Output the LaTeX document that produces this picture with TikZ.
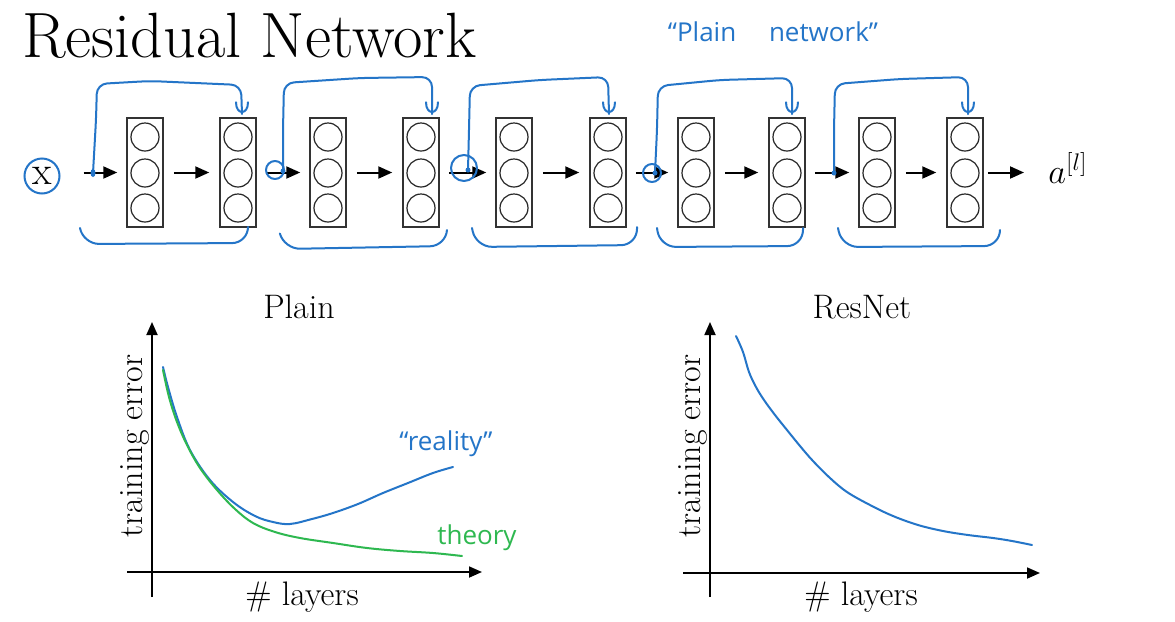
\documentclass[tikz,border=0pt]{standalone}
\usepackage{fontspec}
\usetikzlibrary{arrows.meta}
\newfontfamily\hand{Open Sans}
\definecolor{pen}{RGB}{36,117,200}
\definecolor{greenpen}{RGB}{46,184,80}
\begin{document}
\begin{tikzpicture}[x=0.5pt,y=-0.5pt,
  layer/.style={draw=black!80, line width=0.75pt, minimum width=18pt, minimum height=54.5pt, inner sep=0pt},
  unit/.style={circle, draw=black!85, line width=0.6pt, minimum size=14pt, inner sep=0pt},
  arr/.style={-{Triangle[length=7pt,width=6pt]}, line width=1pt},
  axis/.style={-{Triangle[length=6.5pt,width=5.5pt]}, line width=0.9pt},
  skip/.style={pen, line width=1pt, line cap=round, line join=round},
  lab/.style={inner sep=0pt, font=\fontsize{17}{20}\selectfont},
  handtxt/.style={inner sep=0pt, font=\hand\fontsize{13}{15}\selectfont}]
\useasboundingbox (0,0) rectangle (1175,622);
\fill[white] (0,0) rectangle (1175,622);
% title
\node[anchor=base west, inner sep=0pt, font=\fontsize{32}{38}\selectfont] (title) at (22,57) {Residual Network};
\node[handtxt, pen, font=\hand\fontsize{13}{15}\selectfont] (plainnet) at (773,32) {“Plain\quad\ network”};
% layers
\foreach \i/\x in {1/145,2/238,3/328,4/421,5/514,6/608,7/696,8/787,9/877,10/965} {
  \node[layer] (L\i) at (\x,172.5) {};
  \foreach \j/\y in {a/137,b/173,c/208} \node[unit] (L\i\j) at (\x,\y) {};
}
% input and output
\node[circle, draw=pen, line width=1pt, minimum size=17.5pt, inner sep=0pt, font=\fontsize{20}{22}\selectfont] (X) at (42,176) {x};
\node[anchor=base west, inner sep=0pt, font=\fontsize{17}{20}\selectfont] (out) at (1048,183) {$a^{[l]}$};
\draw[arr] ([xshift=11.5pt]X.east |- L1.west) -- ([xshift=-4.5pt]L1.west);
\foreach \a/\b in {1/2,3/4,5/6,7/8,9/10} \draw[arr, shorten <=5pt, shorten >=5pt] (L\a) -- (L\b);
\foreach \a/\b in {2/3,4/5,6/7,8/9} \draw[arr, shorten <=4.5pt, shorten >=4.5pt] (L\a) -- (L\b);
\draw[arr] ([xshift=2pt]L10.east) -- ([xshift=-12pt]out.west |- L10.east);
% skip connection start points
\coordinate (s1) at (93,173);
\coordinate (s2) at (283,171);
\coordinate (s3) at (468,170);
\coordinate (s4) at (655,173);
\coordinate (s5) at (834,173);
% skip connections
\draw[skip, rounded corners=5pt] (s1) -- (96,120) -- (97,84) -- (150,81) -- (241,85) -- (242,114);
\draw[skip, rounded corners=5pt] (s2) -- (283,130) -- (284,83) -- (360,78) -- (432,77) -- (432,114);
\draw[skip, rounded corners=5pt] (s3) -- (469,130) -- (470,86) -- (540,80) -- (608,77) -- (609,114);
\draw[skip, rounded corners=5pt] (s4) -- (657,130) -- (658,86) -- (720,80) -- (792,78) -- (792,114);
\draw[skip, rounded corners=5pt] (s5) -- (834,130) -- (835,84) -- (900,79) -- (968,77) -- (968,114);
% arrow hooks above the target layers
\foreach \k/\dx in {2/4,4/11,6/1,8/5,10/3}
  \draw[skip] ([xshift=\dx*0.5pt-3pt,yshift=7.5pt]L\k.north) .. controls +(0,-6.5pt) and +(0,-6.5pt) .. ([xshift=\dx*0.5pt+3pt,yshift=7.5pt]L\k.north);
% junction marks
\fill[pen] (s1) ellipse (2.5 and 4);
\fill[pen] (s2) circle (2.5);
\fill[pen] (s3) circle (2.5);
\fill[pen] (s4) circle (2.5);
\fill[pen] (s5) circle (2.5);
\draw[skip] (275,170) circle (9);
\draw[skip] (464,168) circle (13);
\draw[skip] (652,173) circle (9);
% bottom brackets
\draw[skip, rounded corners=8pt] (80,228) -- (83,244) -- (248,243) -- (248,228);
\draw[skip, rounded corners=8pt] (280,234) -- (284,249) -- (446,246) -- (447,230);
\draw[skip, rounded corners=8pt] (472,228) -- (476,247) -- (637,245) -- (637,227);
\draw[skip, rounded corners=8pt] (657,228) -- (660,247) -- (803,246) -- (803,228);
\draw[skip, rounded corners=8pt] (838,228) -- (842,247) -- (1000,246) -- (1000,230);
% Plain plot
\coordinate (pO1) at (152,597);
\coordinate (pY1) at (152,322);
\coordinate (pO2) at (127,572);
\coordinate (pX1) at (482,572);
\draw[axis] (pO1) -- (pY1);
\draw[axis] (pO2) -- (pX1);
\node[lab, anchor=base] (plaint) at (299,318) {Plain};
\node[lab, anchor=base] (plainx) at (302,605) {\# layers};
\node[lab, anchor=base, rotate=90] (plainy) at (142,446) {training error};
\draw[pen, line width=1pt, line cap=round] plot[smooth, tension=0.6] coordinates {(163,367) (168,387) (177,417) (190,450) (210,480) (233,502) (255,516) (273,522) (290,524) (312,519) (333,513) (358,504) (383,493) (408,483) (433,473) (453,467)};
\draw[greenpen, line width=1pt, line cap=round] plot[smooth, tension=0.6] coordinates {(163,370) (169,397) (177,422) (187,445) (200,468) (217,490) (235,509) (253,523) (275,532) (300,538) (333,543) (367,548) (400,551) (433,553) (462,556)};
\node[handtxt, pen] (reality) at (446,444) {“reality”};
\node[handtxt, greenpen] (theory) at (477,538) {theory};
% ResNet plot
\coordinate (rO1) at (710,597);
\coordinate (rY1) at (710,322);
\coordinate (rO2) at (683,573);
\coordinate (rX1) at (1040,573);
\draw[axis] (rO1) -- (rY1);
\draw[axis] (rO2) -- (rX1);
\node[lab, anchor=base] (rest) at (862,318) {ResNet};
\node[lab, anchor=base] (resx) at (861,605) {\# layers};
\node[lab, anchor=base, rotate=90] (resy) at (700,446) {training error};
\draw[pen, line width=1pt, line cap=round] plot[smooth, tension=0.6] coordinates {(736,336) (743,352) (749,372) (756,387) (764,400) (775,415) (787,430) (800,446) (813,461) (830,478) (847,492) (870,505) (893,516) (918,525) (943,531) (968,535) (993,538) (1012,541) (1032,545)};
\end{tikzpicture}
\end{document}
